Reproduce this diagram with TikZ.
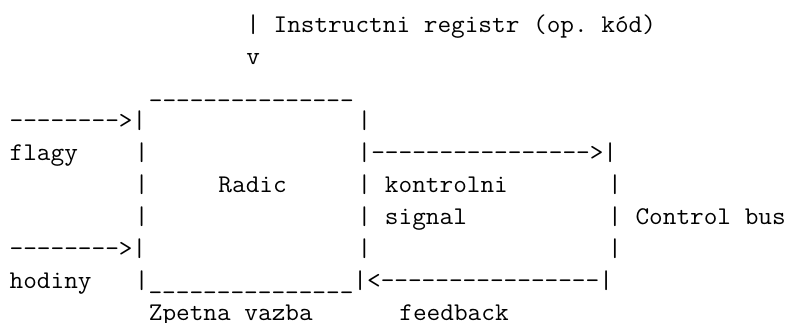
\documentclass[tikz,border=0pt]{standalone}
\usepackage{fontspec}
% repeat a character n times, kept apart so no ligatures form
\newcommand\repchar[2]{\foreach \k in {1,...,#1}{#2\kern0pt}}
\begin{document}
\begin{tikzpicture}[x=1pt,y=1pt,
  declare function={cx(\c)=9.65+13.92*\c; ry(\r)=290-31.9*\r;},
  txt/.style={anchor=base west, inner sep=0pt, outer sep=0pt,
    font=\ttfamily\fontsize{25.5}{30}\selectfont\frenchspacing, xscale=1.04}]
\useasboundingbox (0,0) rectangle (808,323);
% instruction register input
\node[txt] (ir)   at ({cx(17)},{ry(0)}) {| Instructni registr (op. kód)};
\node[txt] (irv)  at ({cx(17)},{ry(1)}) {v};
% top edge of the control unit
\node[txt] (top)  at ({cx(10)},{ry(2)}) {\repchar{15}{\_}};
% row 3
\node[txt] (inflag) at ({cx(0)},{ry(3)}) {\repchar{8}{-}>|};
\node[txt] (r3r)  at ({cx(25)},{ry(3)}) {|};
% row 4
\node[txt] (flagy) at ({cx(0)},{ry(4)}) {flagy};
\node[txt] (r4l)  at ({cx(9)},{ry(4)}) {|};
\node[txt] (ctl)  at ({cx(25)},{ry(4)}) {|\repchar{16}{-}>|};
% row 5
\node[txt] (r5l)  at ({cx(9)},{ry(5)}) {|};
\node[txt] (radic) at ({cx(15)},{ry(5)}) {Radic};
\node[txt] (kontrolni) at ({cx(25)},{ry(5)}) {| kontrolni};
\node[txt] (r5r)  at ({cx(43)},{ry(5)}) {|};
% row 6
\node[txt] (r6l)  at ({cx(9)},{ry(6)}) {|};
\node[txt] (signal) at ({cx(25)},{ry(6)}) {| signal};
\node[txt] (bus)  at ({cx(43)},{ry(6)}) {| Control bus};
% row 7
\node[txt] (inclk) at ({cx(0)},{ry(7)}) {\repchar{8}{-}>|};
\node[txt] (r7r)  at ({cx(25)},{ry(7)}) {|};
\node[txt] (r7b)  at ({cx(43)},{ry(7)}) {|};
% row 8: bottom edge and feedback path
\node[txt] (hodiny) at ({cx(0)},{ry(8)}) {hodiny};
\node[txt] (bottom) at ({cx(9)},{ry(8)}) {|\repchar{15}{\_}|<\repchar{16}{-}|};
% row 9
\node[txt] (zpetna) at ({cx(10)},{ry(9)}) {Zpetna vazba};
\node[txt] (fb)   at ({cx(28)},{ry(9)}) {feedback};
\end{tikzpicture}
\end{document}
